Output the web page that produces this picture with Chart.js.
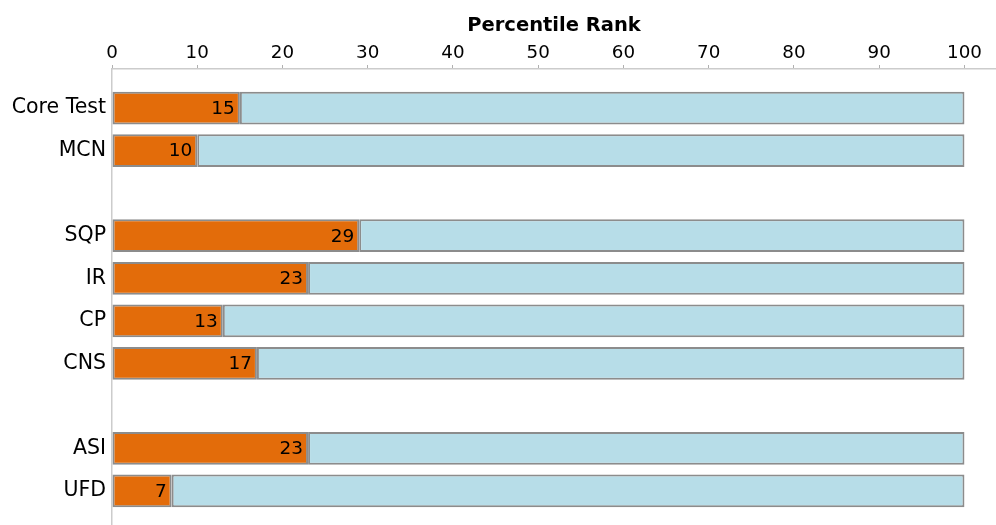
<!DOCTYPE html>
<html>
<head>
<meta charset="utf-8">
<script src="https://cdn.jsdelivr.net/npm/chart.js@4"></script>
<style>
  html, body { margin: 0; padding: 0; background: #fff; overflow: hidden; }
</style>
</head>
<body>
<canvas id="rankChart" width="996" height="525"></canvas>
<script>
// rows top to bottom, '' = spacer row
const categories = ['Core Test', 'MCN', '', 'SQP', 'IR', 'CP', 'CNS', '', 'ASI', 'UFD'];
const scores = [15, 10, null, 29, 23, 13, 17, null, 23, 7];
const xTicks = [0, 10, 20, 30, 40, 50, 60, 70, 80, 90, 100];
const maxRank = 100;

const FONT = 'DejaVu Sans';

const rankPoints = [];
const restPoints = [];
scores.forEach((v, i) => {
    if (v === null) return;
    rankPoints.push({ x: v, y: i });
    restPoints.push({ x: maxRank - v, y: i });
});

// writes the score near the right end of each orange bar
const valueLabels = {
    id: 'valueLabels',
    afterDatasetsDraw(chart) {
        const ctx = chart.ctx;
        const meta = chart.getDatasetMeta(0);
        ctx.save();
        ctx.font = '18.5px "' + FONT + '"';
        ctx.fillStyle = '#000';
        ctx.textAlign = 'right';
        ctx.textBaseline = 'middle';
        meta.data.forEach((bar, i) => {
            ctx.fillText(String(rankPoints[i].x), bar.x - 5, bar.y + 1);
        });
        ctx.restore();
    }
};

new Chart(document.getElementById('rankChart').getContext('2d'), {
    type: 'bar',
    data: {
        datasets: [{
            data: rankPoints,
            backgroundColor: '#e36c0a',
            borderColor: '#8c8c8c',
            borderWidth: 2,
            borderSkipped: false,
            barPercentage: 0.77,
            categoryPercentage: 1
        }, {
            data: restPoints,
            backgroundColor: '#b7dde8',
            borderColor: '#8c8c8c',
            borderWidth: 2,
            borderSkipped: false,
            barPercentage: 0.77,
            categoryPercentage: 1
        }]
    },
    options: {
        indexAxis: 'y',
        responsive: false,
        animation: false,
        layout: { padding: 0 },
        plugins: {
            legend: { display: false },
            tooltip: { enabled: false }
        },
        scales: {
            x: {
                type: 'linear',
                position: 'top',
                stacked: true,
                offset: false,
                min: 0,
                max: 103.7,
                afterBuildTicks: (scale) => {
                    scale.ticks = xTicks.map(v => ({ value: v }));
                },
                afterFit: (scale) => {
                    scale.height = 69;
                    scale.paddingLeft = 0;
                    scale.paddingRight = 0;
                },
                title: {
                    display: true,
                    text: 'Percentile Rank',
                    color: '#000',
                    font: { family: FONT, size: 19.5, weight: 'bold' },
                    padding: { top: 14, bottom: 0 }
                },
                ticks: {
                    color: '#000',
                    padding: 1,
                    maxRotation: 0,
                    font: { family: FONT, size: 18.3 }
                },
                grid: {
                    drawOnChartArea: false,
                    drawTicks: true,
                    tickLength: 4,
                    tickColor: '#b0b0b0'
                },
                border: { display: true, color: '#cccccc', width: 1.5 }
            },
            y: {
                type: 'linear',
                reverse: true,
                stacked: true,
                offset: false,
                bounds: 'data',
                min: -0.92,
                max: 9.8,
                afterBuildTicks: (scale) => {
                    scale.ticks = categories.map((c, i) => ({ value: i }));
                },
                afterFit: (scale) => {
                    scale.width = 112;
                    scale.paddingTop = 0;
                    scale.paddingBottom = 0;
                },
                ticks: {
                    color: '#000',
                    padding: 6,
                    font: { family: FONT, size: 20.5 },
                    callback: (value) => categories[value]
                },
                grid: {
                    offset: false,
                    drawOnChartArea: false,
                    drawTicks: false
                },
                border: { display: true, color: '#cccccc', width: 1.5 }
            }
        }
    },
    plugins: [valueLabels]
});
</script>
</body>
</html>
